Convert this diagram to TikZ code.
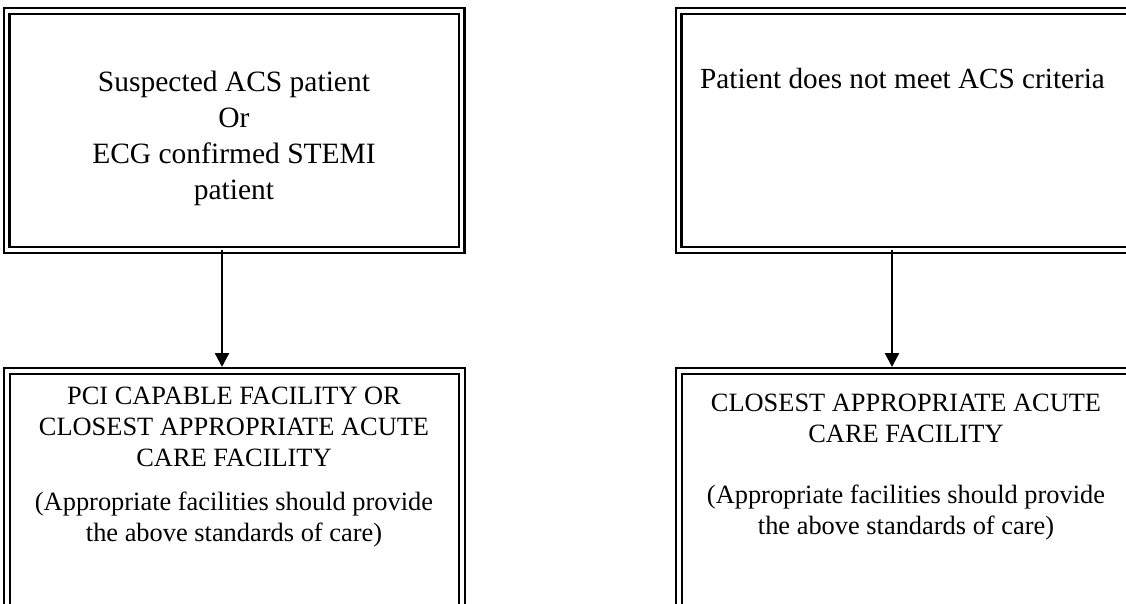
\documentclass[tikz,border=0pt]{standalone}
\usepackage{fontspec}
\setmainfont{Liberation Serif}
\usetikzlibrary{arrows.meta,calc}
\begin{document}
\begin{tikzpicture}[x=1pt,y=-1pt,
  box/.style={draw, rectangle, line width=2.2pt, double, double distance=3.6pt,
    inner sep=0pt, outer sep=0pt, anchor=north west},
  arr/.style={line width=2.3pt, -{Triangle[width=14pt,length=14pt]}, shorten >=4pt},
  bigtext/.style={inner sep=0pt, font=\fontsize{29.5}{36}\selectfont},
  smalltext/.style={inner sep=0pt, font=\fontsize{26.4}{31}\selectfont}]
\useasboundingbox (0,0) rectangle (1126,604);
\clip (0,0) rectangle (1126,604);
\fill[white] (0,0) rectangle (1126,604);
% boxes
\node[box, minimum width=455pt, minimum height=239pt] (tl) at (6.5,11) {};
\node[box, minimum width=455pt, minimum height=269pt] (bl) at (7,371) {};
\node[box, minimum width=455pt, minimum height=239pt] (tr) at (678.5,11) {};
\node[box, minimum width=455pt, minimum height=269pt] (br) at (679,371) {};
% connectors
\draw[arr] ([xshift=-12pt]tl.south) -- ([xshift=-12pt]tl.south |- bl.north);
\draw[arr] ([xshift=-14pt]tr.south) -- ([xshift=-14pt]tr.south |- br.north);
% texts
\node[bigtext, anchor=base] (t1) at (234,92)
  {\begin{tabular}[t]{@{}c@{}}Suspected ACS patient\\Or\\ECG confirmed STEMI\\patient\end{tabular}};
\node[inner sep=0pt, anchor=base west, font=\fontsize{29.2}{35}\selectfont] (t2) at (700,89)
  {Patient does not meet ACS criteria};
\node[smalltext, anchor=base] (t3) at (234,404)
  {\begin{tabular}[t]{@{}c@{}}PCI CAPABLE FACILITY OR\\CLOSEST APPROPRIATE ACUTE\\CARE FACILITY\\[13pt](Appropriate facilities should provide\\the above standards of care)\end{tabular}};
\node[smalltext, anchor=base] (t4) at (906,411)
  {\begin{tabular}[t]{@{}c@{}}CLOSEST APPROPRIATE ACUTE\\CARE FACILITY\\[30pt](Appropriate facilities should provide\\the above standards of care)\end{tabular}};
\end{tikzpicture}
\end{document}
